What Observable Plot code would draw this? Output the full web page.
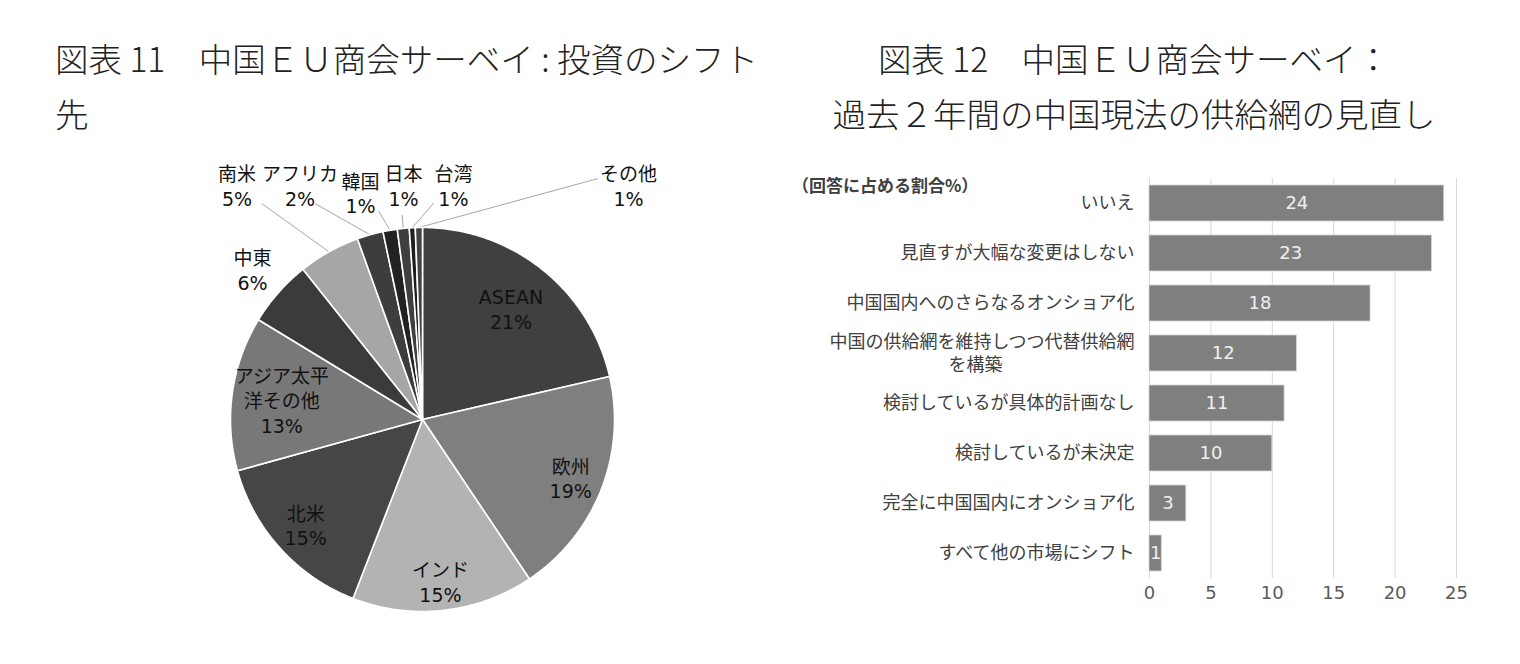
<!DOCTYPE html>
<html><head><meta charset="utf-8">
<script src="https://cdn.jsdelivr.net/npm/d3@7"></script>
<script src="https://cdn.jsdelivr.net/npm/@observablehq/plot@0.6"></script>
<style>
body{margin:0;background:#fff;width:1520px;height:664px;overflow:hidden;position:relative;font-family:"Noto Sans CJK JP","Noto Sans",sans-serif;}
.title{position:absolute;font-size:33.5px;color:#222;line-height:55px;white-space:nowrap;font-weight:300;}
#t1{left:55px;top:30px;}
#t2{left:784px;width:700px;text-align:center;top:30px;}
#pie{position:absolute;left:150px;top:145px;}
#bar{position:absolute;left:780px;top:165px;}
#unit{position:absolute;left:792px;top:173px;font-size:17px;font-weight:bold;color:#404040;line-height:24px;white-space:nowrap;}
</style></head>
<body>
<div class="title" id="t1">図表 11　中国ＥＵ商会サーベイ : 投資のシフト<br>先</div>
<div class="title" id="t2">図表 12　中国ＥＵ商会サーベイ：<br>過去２年間の中国現法の供給網の見直し</div>
<div id="pie"></div>
<div id="bar"></div>
<div id="unit">（回答に占める割合%）</div>
<script>
// ---- Data: pie (図表11) ----
const regions = ["ASEAN","欧州","インド","北米","アジア太平\n洋その他","中東","南米","アフリカ","韓国","日本","台湾","その他"];
const shares = [21.4,19.2,15.3,14.8,13.0,5.6,5.2,2.2,1.2,1.0,0.5,0.6];
const shareLabels = ["21%","19%","15%","15%","13%","6%","5%","2%","1%","1%","1%","1%"];

// ---- Data: bars (図表12) ----
const answers = ["いいえ","見直すが大幅な変更はしない","中国国内へのさらなるオンショア化","中国の供給網を維持しつつ代替供給網\nを構築","検討しているが具体的計画なし","検討しているが未決定","完全に中国国内にオンショア化","すべて他の市場にシフト"];
const answerShares = [24,23,18,12,11,10,3,1];
const xTicks = [0,5,10,15,20,25];

// ---- Styles / layout (kept apart from the data) ----
const sliceColors = ["#404040","#7f7f7f","#b3b3b3","#464646","#787878","#3b3b3b","#a6a6a6","#3d3d3d","#222222","#3f3f3f","#1e1e1e","#444444"];
// inner labels: radius factor along the slice mid-angle; outer labels: label anchor + leader start (in radius units)
const labelLayout = [
  {r:0.74},{r:0.83},{r:0.85},{r:0.82},{r:0.74},{r:1.18},
  {at:[-0.966,1.219], from:[-0.835,1.123]},
  {at:[-0.638,1.219], from:[-0.557,1.123]},
  {at:[-0.323,1.180], from:[-0.228,1.085]},
  {at:[-0.099,1.219], from:[-0.106,1.0625]},
  {at:[0.161,1.219], from:[0.057,1.125]},
  {at:[1.073,1.219], from:[0.910,1.254]}
];
const FONT = '"DejaVu Sans","Noto Sans CJK JP",sans-serif';

// ---- Pie geometry ----
const total = d3.sum(shares);
let acc = 0;
const slices = regions.map((name, i) => {
  const a0 = acc / total * 2 * Math.PI; acc += shares[i];
  const a1 = acc / total * 2 * Math.PI;
  return {name, i, a0, a1, mid: (a0 + a1) / 2, color: sliceColors[i]};
});
const polys = slices.flatMap(s => {
  const pts = [{name: s.name, color: s.color, x: 0, y: 0}];
  const n = Math.max(2, Math.ceil((s.a1 - s.a0) / (Math.PI / 360)));
  for (let k = 0; k <= n; k++) {
    const a = s.a0 + (s.a1 - s.a0) * k / n;
    pts.push({name: s.name, color: s.color, x: Math.sin(a), y: Math.cos(a)});
  }
  return pts;
});
const labels = slices.map(s => {
  const L = labelLayout[s.i];
  const p = L.at ? L.at : [L.r * Math.sin(s.mid), L.r * Math.cos(s.mid)];
  return {x: p[0], y: p[1], text: s.name + "\n" + shareLabels[s.i]};
});
const leaders = slices.filter(s => labelLayout[s.i].from).flatMap(s => [
  {name: s.name, x: labelLayout[s.i].from[0], y: labelLayout[s.i].from[1]},
  {name: s.name, x: Math.sin(s.mid), y: Math.cos(s.mid)}
]);

const R = 192, PW = 560, PH = 480, CX = 272, CY = 274;
const pie = Plot.plot({
  width: PW, height: PH, margin: 0,
  x: {domain: [-CX / R, (PW - CX) / R], axis: null},
  y: {domain: [-(PH - CY) / R, CY / R], axis: null},
  color: {type: "identity"},
  style: {fontFamily: FONT, background: "transparent"},
  marks: [
    Plot.line(leaders, {x: "x", y: "y", z: "name", stroke: "#a6a6a6", strokeWidth: 1}),
    Plot.line(polys, {x: "x", y: "y", z: "name", fill: "color", stroke: "white", strokeWidth: 1.6, curve: "linear-closed"}),
    Plot.text(labels, {x: "x", y: "y", text: "text", fontSize: 19, lineHeight: 1.3, fill: "#111"})
  ]
});
document.getElementById("pie").appendChild(pie);

// ---- Bar chart ----
const rows = answers.map((a, i) => ({answer: a, value: answerShares[i]}));
const single = answers.filter(a => !a.includes("\n"));
const multi = answers.filter(a => a.includes("\n"));
const bar = Plot.plot({
  width: 720, height: 450,
  marginLeft: 369, marginRight: 44, marginTop: 13, marginBottom: 37,
  x: {domain: [0, 25], label: null},
  y: {domain: answers, paddingInner: 0.28, paddingOuter: 0.14, axis: null},
  style: {fontFamily: FONT, background: "transparent"},
  marks: [
    Plot.ruleX(xTicks, {stroke: "#d9d9d9", strokeWidth: 1}),
    Plot.barX(rows, {y: "answer", x: "value", fill: "#7f7f7f", stroke: "#d4d4d4", strokeWidth: 0.8}),
    Plot.text(rows, {y: "answer", x: d => d.value / 2, text: d => String(d.value), fill: "#f0f0f0", fontSize: 18}),
    Plot.axisX({ticks: xTicks, tickSize: 0, tickPadding: 8, fontSize: 18, color: "#595959", label: null}),
    Plot.text(single, {y: d => d, text: d => d, frameAnchor: "left", textAnchor: "end", dx: -15, fontSize: 18, fill: "#404040"}),
    Plot.text(multi, {y: d => d, text: d => d.split("\n")[0], frameAnchor: "left", textAnchor: "end", dx: -15, dy: -11, fontSize: 18, fill: "#404040"}),
    Plot.text(multi, {y: d => d, text: d => d.split("\n")[1], frameAnchor: "left", textAnchor: "middle", dx: -174, dy: 12, fontSize: 18, fill: "#404040"})
  ]
});
document.getElementById("bar").appendChild(bar);
</script>
</body></html>
